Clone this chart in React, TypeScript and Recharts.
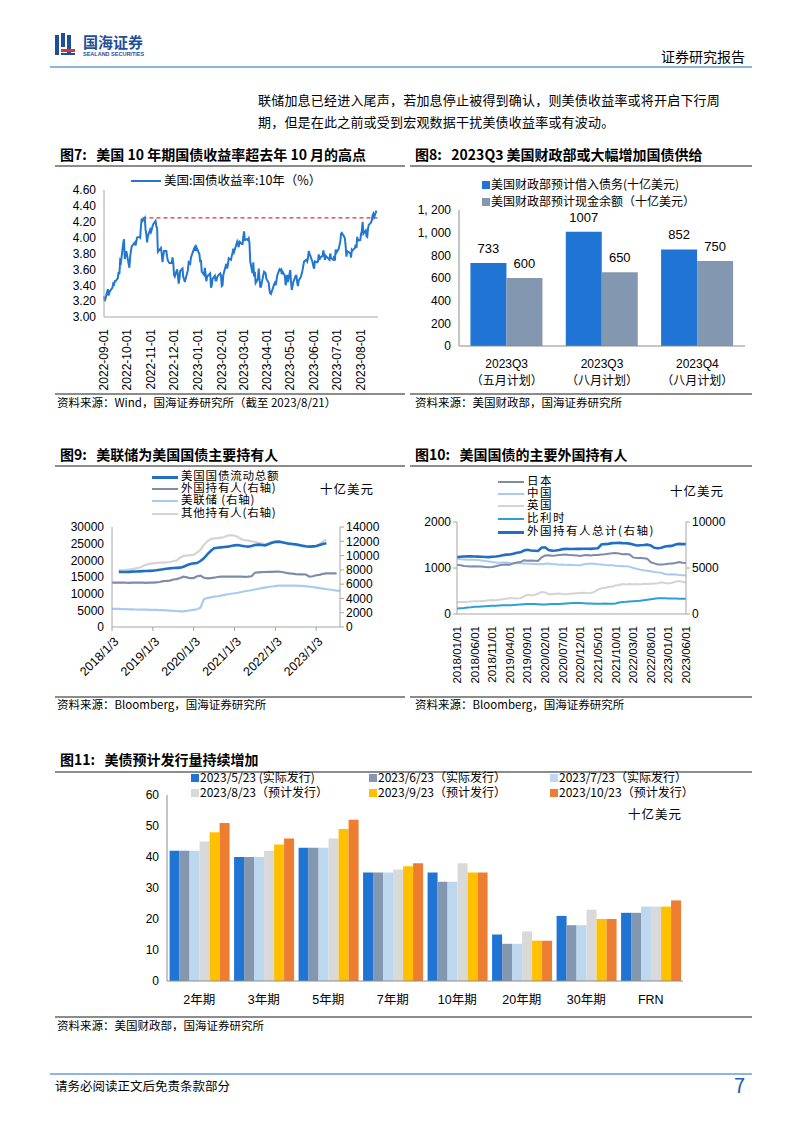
import React from 'react';
import { LineChart, Line, BarChart, Bar, XAxis, YAxis, ReferenceLine, LabelList } from 'recharts';

const SANS = '"Liberation Sans", Arial, "Noto Sans CJK SC", sans-serif';
const CJK = '"Noto Sans CJK SC", "Liberation Sans", sans-serif';

// ---------- 图7: 美国10年期国债收益率 ----------
const ust10Dates = [
  '2022-09-01','2022-09-02','2022-09-06','2022-09-07','2022-09-08','2022-09-09','2022-09-12','2022-09-13','2022-09-14','2022-09-15','2022-09-16','2022-09-19','2022-09-20','2022-09-21','2022-09-22','2022-09-23','2022-09-26','2022-09-27','2022-09-28','2022-09-29','2022-09-30',
  '2022-10-03','2022-10-04','2022-10-05','2022-10-06','2022-10-07','2022-10-11','2022-10-12','2022-10-13','2022-10-14','2022-10-17','2022-10-18','2022-10-19','2022-10-20','2022-10-21','2022-10-24','2022-10-25','2022-10-26','2022-10-27','2022-10-28','2022-10-31',
  '2022-11-01','2022-11-02','2022-11-03','2022-11-04','2022-11-07','2022-11-08','2022-11-09','2022-11-10','2022-11-14','2022-11-15','2022-11-16','2022-11-17','2022-11-18','2022-11-21','2022-11-22','2022-11-23','2022-11-25','2022-11-28','2022-11-29','2022-11-30',
  '2022-12-01','2022-12-02','2022-12-05','2022-12-06','2022-12-07','2022-12-08','2022-12-09','2022-12-12','2022-12-13','2022-12-14','2022-12-15','2022-12-16','2022-12-19','2022-12-20','2022-12-21','2022-12-22','2022-12-23','2022-12-27','2022-12-28','2022-12-29','2022-12-30',
  '2023-01-03','2023-01-04','2023-01-05','2023-01-06','2023-01-09','2023-01-10','2023-01-11','2023-01-12','2023-01-13','2023-01-17','2023-01-18','2023-01-19','2023-01-20','2023-01-23','2023-01-24','2023-01-25','2023-01-26','2023-01-27','2023-01-30','2023-01-31',
  '2023-02-01','2023-02-02','2023-02-03','2023-02-06','2023-02-07','2023-02-08','2023-02-09','2023-02-10','2023-02-13','2023-02-14','2023-02-15','2023-02-16','2023-02-17','2023-02-21','2023-02-22','2023-02-23','2023-02-24','2023-02-27','2023-02-28',
  '2023-03-01','2023-03-02','2023-03-03','2023-03-06','2023-03-07','2023-03-08','2023-03-09','2023-03-10','2023-03-13','2023-03-14','2023-03-15','2023-03-16','2023-03-17','2023-03-20','2023-03-21','2023-03-22','2023-03-23','2023-03-24','2023-03-27','2023-03-28','2023-03-29','2023-03-30','2023-03-31',
  '2023-04-03','2023-04-04','2023-04-05','2023-04-06','2023-04-10','2023-04-11','2023-04-12','2023-04-13','2023-04-14','2023-04-17','2023-04-18','2023-04-19','2023-04-20','2023-04-21','2023-04-24','2023-04-25','2023-04-26','2023-04-27','2023-04-28',
  '2023-05-01','2023-05-02','2023-05-03','2023-05-04','2023-05-05','2023-05-08','2023-05-09','2023-05-10','2023-05-11','2023-05-12','2023-05-15','2023-05-16','2023-05-17','2023-05-18','2023-05-19','2023-05-22','2023-05-23','2023-05-24','2023-05-25','2023-05-26','2023-05-30','2023-05-31',
  '2023-06-01','2023-06-02','2023-06-05','2023-06-06','2023-06-07','2023-06-08','2023-06-09','2023-06-12','2023-06-13','2023-06-14','2023-06-15','2023-06-16','2023-06-20','2023-06-21','2023-06-22','2023-06-23','2023-06-26','2023-06-27','2023-06-28','2023-06-29','2023-06-30',
  '2023-07-03','2023-07-05','2023-07-06','2023-07-07','2023-07-10','2023-07-11','2023-07-12','2023-07-13','2023-07-14','2023-07-17','2023-07-18','2023-07-19','2023-07-20','2023-07-21','2023-07-24','2023-07-25','2023-07-26','2023-07-27','2023-07-28','2023-07-31',
  '2023-08-01','2023-08-02','2023-08-03','2023-08-04','2023-08-07','2023-08-08','2023-08-09','2023-08-10','2023-08-11','2023-08-14','2023-08-15','2023-08-16','2023-08-17','2023-08-18','2023-08-21',
];
const ust10Values = [
  3.26,3.20,3.35,3.27,3.31,3.33,3.37,3.42,3.41,3.45,3.45,3.49,3.57,3.54,3.71,3.69,3.93,3.98,3.73,3.79,3.83,
  3.67,3.62,3.76,3.83,3.89,3.94,3.90,3.95,4.00,4.01,4.00,4.14,4.24,4.21,4.25,4.10,4.04,3.94,4.02,4.10,
  4.07,4.10,4.14,4.17,4.21,4.14,4.12,3.82,3.87,3.80,3.69,3.77,3.83,3.83,3.76,3.71,3.68,3.68,3.75,3.68,
  3.53,3.51,3.60,3.53,3.42,3.48,3.58,3.61,3.50,3.48,3.44,3.48,3.59,3.69,3.68,3.67,3.75,3.86,3.88,3.83,3.88,
  3.79,3.69,3.72,3.57,3.53,3.62,3.54,3.45,3.51,3.55,3.37,3.40,3.48,3.52,3.46,3.46,3.50,3.52,3.55,3.52,
  3.39,3.40,3.53,3.64,3.67,3.61,3.66,3.74,3.72,3.77,3.81,3.86,3.82,3.95,3.92,3.88,3.95,3.92,3.92,
  4.01,4.08,3.97,3.98,3.97,3.99,3.93,3.70,3.55,3.69,3.51,3.57,3.43,3.48,3.61,3.48,3.38,3.38,3.53,3.57,3.56,3.55,3.48,
  3.43,3.34,3.30,3.29,3.41,3.43,3.40,3.45,3.52,3.60,3.59,3.60,3.54,3.57,3.52,3.40,3.45,3.53,3.44,
  3.59,3.44,3.34,3.39,3.44,3.52,3.52,3.44,3.39,3.46,3.51,3.55,3.59,3.65,3.70,3.72,3.70,3.74,3.83,3.80,3.69,3.64,
  3.61,3.70,3.69,3.70,3.79,3.72,3.75,3.77,3.84,3.79,3.72,3.77,3.73,3.72,3.80,3.74,3.72,3.77,3.71,3.85,3.81,
  3.86,3.95,4.05,4.06,4.01,3.99,3.89,3.76,3.83,3.81,3.80,3.75,3.85,3.84,3.87,3.91,3.87,4.01,3.96,3.97,
  4.05,4.08,4.20,4.05,4.09,4.02,4.01,4.11,4.16,4.19,4.22,4.28,4.30,4.26,4.34,
];
const ust10Ticks = ['2022-09-01','2022-10-01','2022-11-01','2022-12-01','2023-01-01','2023-02-01','2023-03-01','2023-04-01','2023-05-01','2023-06-01','2023-07-01','2023-08-01'];
const ust10YTicks = [3.0, 3.2, 3.4, 3.6, 3.8, 4.0, 4.2, 4.4, 4.6];
const ust10PrevHigh = 4.25;
const ust10HighFrom = '2022-10-21';

// ---------- 图8: 财政部借入债务 ----------
const fig8Quarters = ['2023Q3', '2023Q3', '2023Q4'];
const fig8Plans = ['（五月计划）', '（八月计划）', '（八月计划）'];
const fig8Borrow = [733, 1007, 852];
const fig8Cash = [600, 650, 750];
const fig8YTicks = [0, 200, 400, 600, 800, 1000, 1200];

// ---------- 图9: 美国国债持有人 (月度, 2018/1 起) ----------
const fig9XTicks = ['2018/1/3', '2019/1/3', '2020/1/3', '2021/1/3', '2022/1/3', '2023/1/3'];
const fig9Total = [
  null, null,
  16550,16500,16520,16550,16600,16650,16700,16750,16800,16850,
  16900,17000,17150,17300,17500,17600,17700,17750,17800,18100,18500,18900,
  19100,19200,19800,20600,21800,22800,23600,23800,23900,24000,24100,24300,
  24500,24600,24400,24200,24100,24300,24600,24700,24600,24500,24900,25300,
  25500,25600,25400,25200,25000,24900,24800,24600,24400,24200,24100,24200,
  24300,24600,24900,25100, null, null, null, null,
];
const fig9Foreign = [
  6200,6220,6210,6230,6200,6190,6210,6220,6230,6200,6180,6200,
  6210,6250,6300,6420,6450,6500,6650,6700,6850,7050,6950,6830,
  6850,7100,7200,6900,6800,6850,6900,7000,7050,7060,7050,7040,
  7050,7060,7040,7030,7050,7100,7600,7650,7680,7700,7720,7730,
  7740,7760,7700,7600,7500,7480,7400,7380,7370,7350,7050,7100,
  7250,7300,7450,7500,7520,7510,7510, null,
];
const fig9Fed = [
  2550,2540,2530,2510,2500,2480,2460,2450,2440,2430,2420,2410,
  2400,2390,2370,2350,2330,2300,2270,2240,2200,2180,2250,2350,
  2410,2480,2700,3900,4050,4150,4250,4300,4400,4500,4580,4650,
  4720,4800,4900,5000,5080,5150,5250,5350,5450,5520,5600,5670,
  5720,5780,5800,5800,5800,5800,5790,5770,5750,5700,5650,5600,
  5520,5450,5380,5300,5250,5180,5100,5050,
];
const fig9Other = [
  null, null,
  7950,7980,8000,8050,8100,8200,8300,8500,8700,8850,
  8900,8950,9000,9000,9050,9100,9200,9300,9700,9950,10000,10050,
  10100,10400,10800,11500,12000,12300,12400,12450,12500,12600,12800,12850,
  12800,12600,12300,12150,12100,12000,11900,11800,11700,11500,11600,11900,
  12100,12000,11850,11750,11650,11550,11450,11350,11300,11250,11200,11200,
  11250,11600,11950,12250, null, null, null, null,
];

// ---------- 图10: 主要外国持有人 (月度) ----------
const fig10Months = [
  '2018/01/01','2018/02/01','2018/03/01','2018/04/01','2018/05/01','2018/06/01','2018/07/01','2018/08/01','2018/09/01','2018/10/01','2018/11/01','2018/12/01',
  '2019/01/01','2019/02/01','2019/03/01','2019/04/01','2019/05/01','2019/06/01','2019/07/01','2019/08/01','2019/09/01','2019/10/01','2019/11/01','2019/12/01',
  '2020/01/01','2020/02/01','2020/03/01','2020/04/01','2020/05/01','2020/06/01','2020/07/01','2020/08/01','2020/09/01','2020/10/01','2020/11/01','2020/12/01',
  '2021/01/01','2021/02/01','2021/03/01','2021/04/01','2021/05/01','2021/06/01','2021/07/01','2021/08/01','2021/09/01','2021/10/01','2021/11/01','2021/12/01',
  '2022/01/01','2022/02/01','2022/03/01','2022/04/01','2022/05/01','2022/06/01','2022/07/01','2022/08/01','2022/09/01','2022/10/01','2022/11/01','2022/12/01',
  '2023/01/01','2023/02/01','2023/03/01','2023/04/01','2023/05/01','2023/06/01',
];
const fig10Japan = [
  1070,1060,1045,1040,1035,1040,1035,1030,1020,1015,1020,1040,
  1060,1070,1075,1070,1100,1120,1130,1170,1160,1165,1160,1155,
  1230,1270,1275,1265,1270,1285,1290,1295,1280,1275,1270,1260,
  1275,1280,1270,1280,1285,1295,1300,1310,1320,1325,1315,1300,
  1305,1295,1230,1215,1215,1210,1200,1125,1100,1075,1075,1080,
  1090,1100,1110,1130,1115,1110,
];
const fig10China = [
  1200,1190,1185,1180,1180,1180,1175,1165,1150,1140,1130,1120,
  1115,1120,1120,1110,1100,1110,1105,1100,1095,1090,1085,1080,
  1085,1090,1095,1080,1080,1070,1075,1065,1070,1065,1060,1060,
  1080,1090,1095,1090,1080,1075,1065,1060,1060,1050,1045,1040,
  1040,1030,1000,985,965,950,940,930,915,905,895,870,
  860,865,860,850,845,835,
];
const fig10UK = [
  255,260,262,265,270,275,278,280,290,300,305,300,
  310,320,330,345,340,335,345,380,420,410,415,440,
  480,470,430,430,440,445,435,430,440,445,450,455,
  460,450,455,480,530,560,570,585,600,620,630,650,
  640,650,645,650,640,655,650,660,665,670,690,675,
  665,680,700,715,700,680,
];
const fig10Belgium = [
  120,125,130,140,145,155,160,165,170,175,180,182,
  185,188,190,192,195,200,205,210,215,218,215,210,
  205,205,210,215,220,220,225,230,235,238,240,240,
  235,230,228,225,222,225,226,225,225,230,250,262,
  265,270,275,280,290,300,310,320,330,340,345,340,
  335,335,335,333,333,333,
];
const fig10Total = [
  6200,6230,6250,6270,6260,6250,6240,6220,6200,6180,6220,6250,
  6300,6380,6450,6470,6560,6650,6700,6900,6980,6900,6880,6850,
  7200,7250,6950,6880,6900,6950,7050,7080,7060,7070,7100,7080,
  7090,7100,7080,7120,7150,7550,7600,7620,7700,7720,7730,7700,
  7690,7650,7550,7450,7480,7500,7540,7450,7200,7150,7200,7330,
  7380,7400,7550,7620,7600,7600,
];

// ---------- 图11: 美债预计发行量 ----------
const fig11Terms = ['2年期', '3年期', '5年期', '7年期', '10年期', '20年期', '30年期', 'FRN'];
const fig11May = [42, 40, 43, 35, 35, 15, 21, 22];
const fig11Jun = [42, 40, 43, 35, 32, 12, 18, 22];
const fig11Jul = [42, 40, 43, 35, 32, 12, 18, 24];
const fig11Aug = [45, 42, 46, 36, 38, 16, 23, 24];
const fig11Sep = [48, 44, 49, 37, 35, 13, 20, 24];
const fig11Oct = [51, 46, 52, 38, 35, 13, 20, 26];
const fig11Names = ['2023/5/23 (实际发行)', '2023/6/23（实际发行）', '2023/7/23（实际发行）', '2023/8/23（预计发行）', '2023/9/23（预计发行）', '2023/10/23（预计发行）'];
const fig11Colors = ['#1f74d4', '#8497b0', '#bdd7ee', '#d9d9d9', '#ffc000', '#ed7d31'];

const ts = (d: string) => Date.parse(d);

const ust10Data = ust10Dates.map((d, i) => ({ t: ts(d), v: ust10Values[i] }));
const fig8Data = fig8Quarters.map((q, i) => ({ q, plan: fig8Plans[i], borrow: fig8Borrow[i], cash: fig8Cash[i] }));
const fig9Data = fig9Fed.map((_, i) => ({
  idx: i, total: fig9Total[i], foreign: fig9Foreign[i], fed: fig9Fed[i], other: fig9Other[i],
}));
const fig10Data = fig10Months.map((m, i) => ({
  m, japan: fig10Japan[i], china: fig10China[i], uk: fig10UK[i], belgium: fig10Belgium[i], total: fig10Total[i],
}));
const fig11Series = [fig11May, fig11Jun, fig11Jul, fig11Aug, fig11Sep, fig11Oct];
const fig11Data = fig11Terms.map((term, i) => {
  const row: Record<string, string | number> = { term };
  fig11Series.forEach((s, k) => { row['s' + k] = s[i]; });
  return row;
});

const tickStyle = { fontSize: 12, fill: '#000', fontFamily: SANS };

function Txt({ x, y, size = 12, bold, color = '#000', children, right, spacing }: any) {
  const style: React.CSSProperties = {
    position: 'absolute', top: y - size / 2 - 1, fontSize: size, lineHeight: `${size}px`,
    fontFamily: CJK, fontWeight: bold ? 700 : 400, color, whiteSpace: 'nowrap', letterSpacing: spacing,
  };
  if (right !== undefined) style.right = 802 - right; else style.left = x;
  return <div style={style}>{children}</div>;
}

function HLine({ x1, x2, y, color = '#8c8c8c', w = 1.5 }: any) {
  return <div style={{ position: 'absolute', left: x1, top: y, width: x2 - x1, height: w, background: color }} />;
}

function LegendLine({ x, y, color, w = 2.5, label, len = 26, size = 11.5, spacing }: any) {
  return (
    <>
      <div style={{ position: 'absolute', left: x, top: y - w / 2, width: len, height: w, background: color }} />
      <Txt x={x + len + 3} y={y} size={size} spacing={spacing}>{label}</Txt>
    </>
  );
}

function LegendBox({ x, y, color, label, size = 12 }: any) {
  return (
    <>
      <div style={{ position: 'absolute', left: x, top: y - 4, width: 8, height: 8, background: color }} />
      <Txt x={x + 9} y={y} size={size}>{label}</Txt>
    </>
  );
}

const Vertical = ({ x, y, payload, fmt, size = 12 }: any) => (
  <text transform={`translate(${x},${y}) rotate(-90)`} x={-4} dy="0.35em" textAnchor="end"
    style={{ fontSize: size, fontFamily: SANS }} fill="#000">
    {fmt ? fmt(payload.value) : payload.value}
  </text>
);

const Slanted = ({ x, y, payload }: any) => (
  <text transform={`translate(${x + 2},${y + 4}) rotate(-45)`} dy="0.6em" textAnchor="end"
    style={{ fontSize: 12.5, fontFamily: SANS }} fill="#000">
    {fig9XTicks[Math.round(payload.value / 12)]}
  </text>
);

const Fig8Tick = ({ x, y, payload, index }: any) => (
  <g>
    <text x={x} y={y + 14} textAnchor="middle" style={{ fontSize: 12, fontFamily: SANS }} fill="#000">{payload.value}</text>
    <text x={x} y={y + 31} textAnchor="middle" style={{ fontSize: 12, fontFamily: CJK }} fill="#000">{fig8Plans[index]}</text>
  </g>
);

const fmtThousands = (v: number) => (v >= 1000 ? `${Math.floor(v / 1000)}, ${String(v % 1000).padStart(3, '0')}` : String(v));

function Logo() {
  return (
    <div style={{ position: 'absolute', left: 55, top: 33 }}>
      <svg width={22} height={24}>
        <rect x={0} y={2} width={4} height={20} fill="#1f4e9b" />
        <rect x={6} y={0} width={4} height={14} fill="#1f4e9b" />
        <rect x={12} y={2} width={4} height={20} fill="#1f4e9b" />
        <rect x={6} y={16} width={14} height={3} fill="#e0303a" />
        <rect x={6} y={20} width={14} height={2} fill="#1f4e9b" />
      </svg>
      <div style={{ position: 'absolute', left: 28, top: 1, fontSize: 15, fontWeight: 700, color: '#1f4e9b', fontFamily: CJK, whiteSpace: 'nowrap', lineHeight: '15px' }}>国海证券</div>
      <div style={{ position: 'absolute', left: 28, top: 18, fontSize: 5.5, lineHeight: '6px', fontWeight: 700, color: '#1f4e9b', fontFamily: SANS, whiteSpace: 'nowrap' }}>SEALAND SECURITIES</div>
    </div>
  );
}

export default function App() {
  return (
    <div style={{ position: 'absolute', left: 0, top: 0, width: 802, height: 1133, background: '#fff', overflow: 'hidden' }}>
      <Logo />
      <Txt right={745} y={57} size={14}>证券研究报告</Txt>
      <HLine x1={50} x2={752} y={66} color="#8eb4e3" w={2} />
      <Txt x={258} y={100} size={13} spacing={0.2}>联储加息已经进入尾声，若加息停止被得到确认，则美债收益率或将开启下行周</Txt>
      <Txt x={258} y={122} size={13} spacing={0.2}>期，但是在此之前或受到宏观数据干扰美债收益率或有波动。</Txt>

      {/* 图7 */}
      <Txt x={60} y={155} size={14} bold>图7:&nbsp;&nbsp;&nbsp;美国 10 年期国债收益率超去年 10 月的高点</Txt>
      <HLine x1={55} x2={405} y={165} />
      <LegendLine x={131} y={181} color="#2277d0" w={2.5} len={30} label="美国:国债收益率:10年（%）" size={12.5} />
      <div style={{ position: 'absolute', left: 55, top: 170 }}>
        <LineChart width={340} height={220} data={ust10Data} margin={{ top: 20, right: 17, left: 0, bottom: 0 }}>
          <XAxis dataKey="t" type="number" scale="time" domain={[ts('2022-09-01'), ts('2023-08-23')]}
            ticks={ust10Ticks.map(ts)} tick={<Vertical fmt={(v: number) => new Date(v).toISOString().slice(0, 10)} />}
            height={73} interval={0} tickLine={false} axisLine={{ stroke: '#a6a6a6' }} />
          <YAxis domain={[3.0, 4.6]} ticks={ust10YTicks} interval={0} tickFormatter={(v: number) => v.toFixed(2)} width={49}
            tick={tickStyle} tickLine={false} axisLine={{ stroke: '#a6a6a6' }} />
          <ReferenceLine segment={[{ x: ts(ust10HighFrom), y: ust10PrevHigh }, { x: ts('2023-08-23'), y: ust10PrevHigh }]}
            stroke="#e0303a" strokeDasharray="4 3" strokeWidth={1.2} />
          <Line dataKey="v" stroke="#2277d0" strokeWidth={2} dot={false} isAnimationActive={false} />
        </LineChart>
      </div>
      <HLine x1={55} x2={405} y={393} />
      <Txt x={57} y={404} size={11.5}>资料来源：Wind，国海证券研究所（截至 2023/8/21）</Txt>

      {/* 图8 */}
      <Txt x={415} y={155} size={14} bold>图8:&nbsp;&nbsp;&nbsp;2023Q3 美国财政部或大幅增加国债供给</Txt>
      <HLine x1={410} x2={752} y={165} />
      <LegendBox x={482} y={185} color="#1f74d4" label="美国财政部预计借入债务(十亿美元)" />
      <LegendBox x={482} y={202} color="#8497b0" label="美国财政部预计现金余额（十亿美元）" />
      <div style={{ position: 'absolute', left: 410, top: 170 }}>
        <BarChart width={345} height={221} data={fig8Data} margin={{ top: 40, right: 10, left: 0, bottom: 0 }}
          barGap={0} barCategoryGap="12%">
          <XAxis dataKey="q" tick={<Fig8Tick />} height={45} interval={0} tickLine={false} axisLine={{ stroke: '#8c8c8c' }} />
          <YAxis domain={[0, 1200]} ticks={fig8YTicks} interval={0} tickFormatter={fmtThousands} width={49}
            tick={tickStyle} tickLine={false} axisLine={{ stroke: '#8c8c8c' }} />
          <Bar dataKey="borrow" fill="#1f74d4" isAnimationActive={false}>
            <LabelList dataKey="borrow" position="top" offset={10} style={{ fontSize: 13, fontFamily: SANS, fill: '#000' }} />
          </Bar>
          <Bar dataKey="cash" fill="#8497b0" isAnimationActive={false}>
            <LabelList dataKey="cash" position="top" offset={10} style={{ fontSize: 13, fontFamily: SANS, fill: '#000' }} />
          </Bar>
        </BarChart>
      </div>
      <HLine x1={410} x2={752} y={393} />
      <Txt x={415} y={404} size={11.5}>资料来源：美国财政部，国海证券研究所</Txt>

      {/* 图9 */}
      <Txt x={60} y={455} size={14} bold>图9:&nbsp;&nbsp;&nbsp;美联储为美国国债主要持有人</Txt>
      <HLine x1={55} x2={405} y={465} />
      <LegendLine x={152} y={477} color="#1f6fc5" w={3} label="美国国债流动总额" spacing={0.8} />
      <LegendLine x={152} y={489} color="#7e8ca8" label="外国持有人(右轴)" spacing={0.8} />
      <LegendLine x={152} y={501} color="#a9ccee" label="美联储 (右轴)" spacing={0.8} />
      <LegendLine x={152} y={514} color="#d4d4d4" label="其他持有人(右轴)" spacing={0.8} />
      <Txt x={320} y={490} size={12.5} spacing={1}>十亿美元</Txt>
      <div style={{ position: 'absolute', left: 55, top: 520 }}>
        <LineChart width={340} height={162} data={fig9Data} margin={{ top: 7, right: 0, left: 0, bottom: 0 }}>
          <XAxis dataKey="idx" type="number" domain={[0, 67]} ticks={[0, 12, 24, 36, 48, 60]} tick={<Slanted />}
            height={55} interval={0} tickSize={4} tickLine={{ stroke: '#a6a6a6' }} axisLine={{ stroke: '#a6a6a6' }} />
          <YAxis yAxisId="left" domain={[0, 30000]} ticks={[0, 5000, 10000, 15000, 20000, 25000, 30000]} interval={0} width={57}
            tick={tickStyle} tickLine={false} axisLine={{ stroke: '#a6a6a6' }} />
          <YAxis yAxisId="right" orientation="right" domain={[0, 14000]} ticks={[0, 2000, 4000, 6000, 8000, 10000, 12000, 14000]}
            interval={0} width={55} tick={tickStyle} tickSize={4} tickLine={{ stroke: '#a6a6a6' }} axisLine={{ stroke: '#a6a6a6' }} />
          <Line yAxisId="right" dataKey="other" stroke="#d4d4d4" strokeWidth={2.2} dot={false} isAnimationActive={false} />
          <Line yAxisId="right" dataKey="fed" stroke="#a9ccee" strokeWidth={2.2} dot={false} isAnimationActive={false} />
          <Line yAxisId="right" dataKey="foreign" stroke="#7e8ca8" strokeWidth={2.2} dot={false} isAnimationActive={false} />
          <Line yAxisId="left" dataKey="total" stroke="#1f6fc5" strokeWidth={2.6} dot={false} isAnimationActive={false} />
        </LineChart>
      </div>
      <HLine x1={55} x2={405} y={696} />
      <Txt x={57} y={706} size={11.5}>资料来源：Bloomberg，国海证券研究所</Txt>

      {/* 图10 */}
      <Txt x={415} y={455} size={14} bold>图10:&nbsp;&nbsp;&nbsp;美国国债的主要外国持有人</Txt>
      <HLine x1={410} x2={752} y={465} />
      <LegendLine x={498} y={482} color="#7e8ca8" label="日本" spacing={1.5} />
      <LegendLine x={498} y={494} color="#a9ccee" label="中国" spacing={1.5} />
      <LegendLine x={498} y={506} color="#d4d4d4" label="英国" spacing={1.5} />
      <LegendLine x={498} y={519} color="#2e9ed6" label="比利时" spacing={1.5} />
      <LegendLine x={498} y={532} color="#1f6fc5" w={3} label="外国持有人总计(右轴)" spacing={1.5} />
      <Txt x={670} y={492} size={12.5} spacing={1}>十亿美元</Txt>
      <div style={{ position: 'absolute', left: 410, top: 515 }}>
        <LineChart width={336} height={171} data={fig10Data} margin={{ top: 7, right: 0, left: 0, bottom: 0 }}>
          <XAxis dataKey="m" interval={4} tick={<Vertical size={11.5} />} height={72} tickLine={false} axisLine={{ stroke: '#a6a6a6' }} />
          <YAxis yAxisId="left" domain={[0, 2000]} ticks={[0, 1000, 2000]} interval={0} width={47}
            tick={tickStyle} tickSize={4} tickLine={{ stroke: '#a6a6a6' }} axisLine={{ stroke: '#a6a6a6' }} />
          <YAxis yAxisId="right" orientation="right" domain={[0, 10000]} ticks={[0, 5000, 10000]} interval={0}
            width={60} tick={tickStyle} tickSize={4} tickLine={{ stroke: '#a6a6a6' }} axisLine={{ stroke: '#a6a6a6' }} />
          <Line yAxisId="left" dataKey="uk" stroke="#d4d4d4" strokeWidth={2} dot={false} isAnimationActive={false} />
          <Line yAxisId="left" dataKey="china" stroke="#a9ccee" strokeWidth={2} dot={false} isAnimationActive={false} />
          <Line yAxisId="left" dataKey="japan" stroke="#7e8ca8" strokeWidth={2} dot={false} isAnimationActive={false} />
          <Line yAxisId="left" dataKey="belgium" stroke="#2e9ed6" strokeWidth={2} dot={false} isAnimationActive={false} />
          <Line yAxisId="right" dataKey="total" stroke="#1f6fc5" strokeWidth={2.6} dot={false} isAnimationActive={false} />
        </LineChart>
      </div>
      <HLine x1={410} x2={752} y={696} />
      <Txt x={415} y={706} size={11.5}>资料来源：Bloomberg，国海证券研究所</Txt>

      {/* 图11 */}
      <Txt x={60} y={760} size={14} bold>图11:&nbsp;&nbsp;&nbsp;美债预计发行量持续增加</Txt>
      <HLine x1={55} x2={752} y={771} />
      <div style={{ position: 'absolute', left: 100, top: 780 }}>
        <BarChart width={593} height={231} data={fig11Data} margin={{ top: 15, right: 10, left: 0, bottom: 0 }}
          barGap={0} barCategoryGap="4%">
          <XAxis dataKey="term" height={30} interval={0} tickLine={false} axisLine={{ stroke: '#8c8c8c' }}
            tick={{ fontSize: 12.5, fill: '#000', fontFamily: SANS }} tickMargin={8} />
          <YAxis domain={[0, 60]} ticks={[0, 10, 20, 30, 40, 50, 60]} interval={0} width={67}
            tick={tickStyle} tickLine={false} axisLine={{ stroke: '#8c8c8c' }} />
          {fig11Series.map((_, k) => (
            <Bar key={k} dataKey={'s' + k} fill={fig11Colors[k]} isAnimationActive={false} />
          ))}
        </BarChart>
      </div>
      {fig11Names.map((name, k) => (
        <LegendBox key={k} x={[191, 369, 550][k % 3]} y={k < 3 ? 778 : 793} color={fig11Colors[k]} label={name} />
      ))}
      <Txt x={628} y={815} size={12.5} spacing={1}>十亿美元</Txt>
      <HLine x1={55} x2={752} y={1016} />
      <Txt x={57} y={1027} size={11.5}>资料来源：美国财政部，国海证券研究所</Txt>

      <HLine x1={50} x2={752} y={1073} color="#8eb4e3" w={2} />
      <Txt x={55} y={1087} size={12.5}>请务必阅读正文后免责条款部分</Txt>
      <Txt right={745} y={1086} size={20} color="#1f5fad">7</Txt>
    </div>
  );
}
